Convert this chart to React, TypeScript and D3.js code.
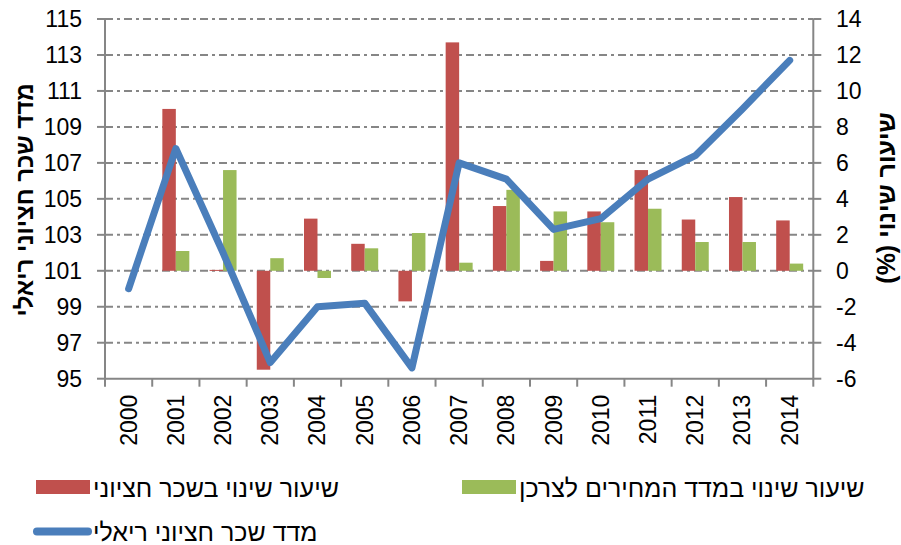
import React from "react";
import * as d3 from "d3";

// Values
const years = ["2000", "2001", "2002", "2003", "2004", "2005", "2006", "2007", "2008", "2009", "2010", "2011", "2012", "2013", "2014"];
const wageChange = [null, 9.0, 0.05, -5.5, 2.9, 1.5, -1.7, 12.7, 3.6, 0.55, 3.3, 5.6, 2.85, 4.1, 2.8];
const cpiChange = [null, 1.1, 5.6, 0.7, -0.4, 1.25, 2.1, 0.45, 4.5, 3.3, 2.7, 3.45, 1.6, 1.6, 0.4];
const realWageIndex = [100, 107.8, 102.0, 95.9, 99.0, 99.2, 95.6, 107.0, 106.1, 103.3, 103.9, 106.1, 107.4, 110.0, 112.7];
const leftTicks = [95, 97, 99, 101, 103, 105, 107, 109, 111, 113, 115];
const rightTicks = [-6, -4, -2, 0, 2, 4, 6, 8, 10, 12, 14];

const seriesNames = {
  wage: "שיעור שינוי בשכר חציוני",
  cpi: "שיעור שינוי במדד המחירים לצרכן",
  real: "מדד שכר חציוני ריאלי",
};
const leftTitle = "מדד שכר חציוני ריאלי";
const rightTitle = "שיעור שינוי (%)";

const RED = "#C0504D";
const GREEN = "#9BBB59";
const BLUE = "#4A7EBB";
const AXIS = "#868686";
const FONT = "'Liberation Sans', Arial, sans-serif";

export default function App() {
  const W = 901, H = 545;
  // plot area
  const left = 105, right = 813.3, top = 19, bottom = 378.7;

  const x = d3.scaleBand<string>().domain(years).range([left, right]).padding(0);
  const yLeft = d3.scaleLinear().domain([95, 115]).range([bottom, top]);
  const yRight = d3.scaleLinear().domain([-6, 14]).range([bottom, top]);

  const bw = x.bandwidth();
  const barW = bw / 3.5; // gap width 150%
  const center = (y: string) => (x(y) as number) + bw / 2;

  const line = d3.line<number>()
    .x((_, i) => center(years[i]))
    .y(d => yLeft(d));

  const zero = yRight(0);

  return (
    <svg width={W} height={H} style={{ position: "absolute", left: 0, top: 0 }} fontFamily={FONT}>
      <rect width={W} height={H} fill="#fff" />

      {/* gridlines */}
      {leftTicks.slice(1).map(t => (
        <line key={"g" + t} x1={left} x2={right} y1={yLeft(t)} y2={yLeft(t)}
          stroke={AXIS} strokeWidth={2} strokeDasharray="8,4,3,4" />
      ))}

      {/* bars */}
      {years.map((y, i) => {
        const w = wageChange[i];
        const c = cpiChange[i];
        const cx = center(y);
        return (
          <g key={"b" + y}>
            {w !== null && (
              <rect x={cx - barW} width={barW} y={Math.min(yRight(w), zero)}
                height={Math.max(Math.abs(yRight(w) - zero), 1)} fill={RED} />
            )}
            {c !== null && (
              <rect x={cx} width={barW} y={Math.min(yRight(c), zero)}
                height={Math.abs(yRight(c) - zero)} fill={GREEN} />
            )}
          </g>
        );
      })}

      {/* axes */}
      <line x1={left} x2={left} y1={top} y2={bottom} stroke={AXIS} strokeWidth={2} />
      <line x1={right} x2={right} y1={top} y2={bottom} stroke={AXIS} strokeWidth={2} />
      <line x1={left} x2={right} y1={bottom} y2={bottom} stroke={AXIS} strokeWidth={2} />
      {leftTicks.map(t => (
        <g key={"l" + t}>
          <line x1={left - 8} x2={left} y1={yLeft(t)} y2={yLeft(t)} stroke={AXIS} strokeWidth={2} />
          <text x={82} y={yLeft(t)} textAnchor="end" dominantBaseline="central" fontSize={23}>{t}</text>
        </g>
      ))}
      {rightTicks.map(t => (
        <g key={"r" + t}>
          <line x1={right} x2={right + 8} y1={yRight(t)} y2={yRight(t)} stroke={AXIS} strokeWidth={2} />
          <text x={836} y={yRight(t)} textAnchor="start" dominantBaseline="central" fontSize={23}>{t}</text>
        </g>
      ))}
      {years.concat(["end"]).map((y, i) => {
        const xx = left + i * bw;
        return <line key={"t" + y} x1={xx} x2={xx} y1={bottom} y2={bottom + 8} stroke={AXIS} strokeWidth={2} />;
      })}
      {years.map(y => (
        <text key={"x" + y} transform={`translate(${center(y)},${bottom + 16}) rotate(-90)`}
          textAnchor="end" dominantBaseline="central" fontSize={23}>{y}</text>
      ))}

      {/* line series */}
      <path d={line(realWageIndex) || ""} fill="none" stroke={BLUE} strokeWidth={7}
        strokeLinejoin="round" strokeLinecap="round" />

      {/* axis titles */}
      <text transform={`translate(24,200) rotate(-90)`} textAnchor="middle" dominantBaseline="central"
        fontSize={24} fontWeight="bold">{leftTitle}</text>
      <text transform={`translate(886,198) rotate(-90)`} textAnchor="middle" dominantBaseline="central"
        fontSize={25} fontWeight="bold" direction="rtl">{rightTitle}</text>

      {/* legend */}
      <rect x={36} y={480} width={54} height={14} fill={RED} />
      <text x={93} y={488} dominantBaseline="central" fontSize={25}>{seriesNames.wage}</text>
      <rect x={462} y={480} width={54} height={14} fill={GREEN} />
      <text x={519} y={488} dominantBaseline="central" fontSize={25}>{seriesNames.cpi}</text>
      <line x1={37} x2={88} y1={531.5} y2={531.5} stroke={BLUE} strokeWidth={8} strokeLinecap="round" />
      <text x={93} y={532} dominantBaseline="central" fontSize={25}>{seriesNames.real}</text>
    </svg>
  );
}
